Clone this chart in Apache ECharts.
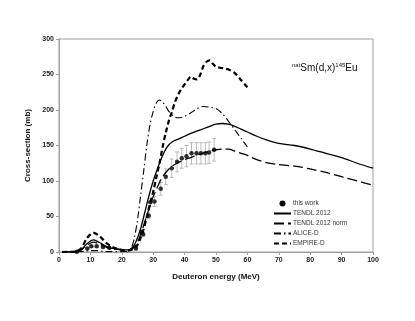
<!DOCTYPE html>
<html>
<head>
<meta charset="utf-8">
<script src="https://cdn.jsdelivr.net/npm/echarts@6/dist/echarts.min.js"></script>
<style>
  html, body { margin: 0; padding: 0; background: #fff; }
  #chart { width: 415px; height: 321px; }
</style>
</head>
<body>
<div id="chart"></div>
<script>
// measured points: energy, cross-section, uncertainty
var expE   = [5.7, 9, 10.3, 12, 14, 16, 24.5, 26.3, 26.8, 28.6, 29.1, 30.4, 32.4, 34.0, 35.9, 37.6, 39.1, 40.6, 42.2, 43.8, 45.2, 46.6, 47.8, 49.4];
var expY   = [0.5, 5, 8, 8, 7, 6, 5, 28, 25, 51, 70, 71, 89, 106, 118, 127, 132, 135, 139, 139, 139, 139, 140, 144];
var expErr = [0.2, 1, 1.5, 1.5, 1.5, 1.2, 1, 3, 3, 4, 5, 7, 9, 11, 13, 14, 14, 15, 15, 15, 15, 15, 15, 16];

var tendlE = [1, 5, 7, 9, 11, 13, 15, 17, 19, 21, 22, 23, 24, 25, 26, 27, 28, 29, 30, 31, 32, 33, 34, 35, 36, 38, 40, 42, 45, 48, 50, 52, 54, 56, 58, 60, 63, 66, 70, 75, 80, 85, 90, 95, 100];
var tendlY = [0, 0.5, 3, 12, 17, 13, 8, 5, 4, 3, 3, 5, 10, 20, 33, 50, 68, 85, 100, 113, 125, 136, 145, 151, 155, 159, 163, 167, 172, 177, 180, 181, 180, 177, 173, 169, 163, 158, 153, 150, 145, 139, 133, 125, 118];
var normY  = [0, 0.3, 2.5, 10, 14, 11, 7, 4.5, 3.5, 3, 3, 4, 7, 14, 25, 38, 52, 65, 78, 88, 98, 106, 112, 117, 121, 126, 130, 133, 138, 142, 144, 145, 145, 142, 139, 136, 130, 126, 123, 121, 117, 112, 106, 100, 94];

var aliceE = [1, 5, 8, 10, 12, 14, 16, 20, 22, 23, 24, 25, 26, 27, 28, 29, 30, 31, 32, 33, 34, 35, 36, 37, 38, 40, 42, 44, 46, 48, 50, 52, 54, 56, 58, 60];
var aliceY = [0, 0, 1, 2, 2, 1, 0.5, 0.5, 1, 5, 20, 45, 80, 115, 152, 180, 198, 210, 214, 211, 205, 198, 193, 190, 189, 191, 196, 202, 205, 204, 202, 195, 184, 172, 160, 148];

var empireE = [1, 5, 7, 9, 11, 13, 15, 17, 19, 21, 22, 23, 24, 25, 26, 27, 28, 29, 30, 31, 32, 33, 34, 35, 36, 37, 38, 39, 40, 41, 42, 43, 44, 45, 46, 47, 48, 49, 50, 52, 54, 56, 58, 60];
var empireY = [0, 0.5, 5, 20, 27, 22, 13, 7, 4, 2, 2, 3, 5, 10, 20, 33, 50, 68, 85, 105, 125, 148, 168, 185, 198, 212, 222, 230, 236, 242, 247, 244, 243, 250, 262, 268, 270, 265, 261, 259, 257, 252, 242, 232];

function pairs(xs, ys) {
  return xs.map(function (x, i) { return [x, ys[i]]; });
}

var font = 'Liberation Sans, Arial, sans-serif';
var chart = echarts.init(document.getElementById('chart'));

chart.setOption({
  animation: false,
  textStyle: { fontFamily: font },
  grid: { left: 59, right: 42, top: 39, bottom: 69, show: true, borderColor: '#a0a0a0', borderWidth: 1 },
  title: {
    text: '{sup|nat}Sm(d,x){sup|145}Eu',
    left: 287, top: 57,
    textStyle: {
      fontFamily: font, fontSize: 10, fontWeight: 'normal', color: '#111',
      rich: { sup: { fontSize: 6, verticalAlign: 'top', padding: [0, 0, 6, 0], color: '#111' } }
    }
  },
  legend: {
    orient: 'vertical',
    left: 268, top: 195,
    itemWidth: 17, itemHeight: 6, itemGap: 3,
    itemStyle: { opacity: 0 },
    textStyle: { fontSize: 6.5, color: '#333', fontFamily: font, padding: [0, 0, 0, -3] },
    data: [
      { name: 'this work', icon: 'circle', itemStyle: { opacity: 1, color: '#000' } },
      'TENDL 2012', 'TENDL 2012 norm', 'ALICE-D', 'EMPIRE-D'
    ]
  },
  xAxis: {
    type: 'value', min: 0, max: 100, interval: 10,
    name: 'Deuteron energy (MeV)', nameLocation: 'middle', nameGap: 21,
    nameTextStyle: { fontSize: 8, fontWeight: 'bold', color: '#111' },
    axisLine: { lineStyle: { color: '#a0a0a0' } },
    axisTick: { show: true, length: 3, lineStyle: { color: '#a0a0a0' } },
    axisLabel: { fontSize: 7, fontWeight: 'bold', color: '#222', margin: 5 },
    splitLine: { show: false }
  },
  yAxis: {
    type: 'value', min: 0, max: 300, interval: 50,
    name: 'Cross-section (mb)', nameLocation: 'middle', nameGap: 19,
    nameTextStyle: { fontSize: 8, fontWeight: 'bold', color: '#111' },
    axisLine: { show: true, lineStyle: { color: '#a0a0a0' } },
    axisTick: { show: true, length: 3, lineStyle: { color: '#a0a0a0' } },
    axisLabel: { fontSize: 7, fontWeight: 'bold', color: '#222', margin: 5 },
    splitLine: { show: false }
  },
  series: [
    {
      name: 'TENDL 2012', type: 'line', data: pairs(tendlE, tendlY),
      smooth: 0.3, symbol: 'none', z: 3,
      lineStyle: { color: '#000', width: 1.3 }, itemStyle: { color: '#000' }
    },
    {
      name: 'TENDL 2012 norm', type: 'line', data: pairs(tendlE, normY),
      smooth: 0.3, symbol: 'none', z: 3,
      lineStyle: { color: '#000', width: 1.3, type: [10, 4] }, itemStyle: { color: '#000' }
    },
    {
      name: 'ALICE-D', type: 'line', data: pairs(aliceE, aliceY),
      smooth: 0.3, symbol: 'none', z: 3,
      lineStyle: { color: '#000', width: 1.1, type: [7, 3, 1.5, 3] }, itemStyle: { color: '#000' }
    },
    {
      name: 'EMPIRE-D', type: 'line', data: pairs(empireE, empireY),
      smooth: 0.3, symbol: 'none', z: 3,
      lineStyle: { color: '#000', width: 2.2, type: [5, 3] }, itemStyle: { color: '#000' }
    },
    {
      name: 'errors', type: 'custom', z: 2,
      data: expE.map(function (e, i) { return [e, expY[i] - expErr[i], expY[i] + expErr[i]]; }),
      renderItem: function (params, api) {
        var lo = api.coord([api.value(0), api.value(1)]);
        var hi = api.coord([api.value(0), api.value(2)]);
        var w = 2;
        var st = { stroke: '#aaa', lineWidth: 0.8 };
        return {
          type: 'group',
          children: [
            { type: 'line', shape: { x1: lo[0], y1: lo[1], x2: hi[0], y2: hi[1] }, style: st },
            { type: 'line', shape: { x1: lo[0] - w, y1: lo[1], x2: lo[0] + w, y2: lo[1] }, style: st },
            { type: 'line', shape: { x1: hi[0] - w, y1: hi[1], x2: hi[0] + w, y2: hi[1] }, style: st }
          ]
        };
      }
    },
    {
      name: 'this work', type: 'scatter', data: pairs(expE, expY),
      symbol: 'circle', symbolSize: 4.5, z: 4,
      itemStyle: { color: '#000' }
    }
  ]
});
</script>
</body>
</html>
